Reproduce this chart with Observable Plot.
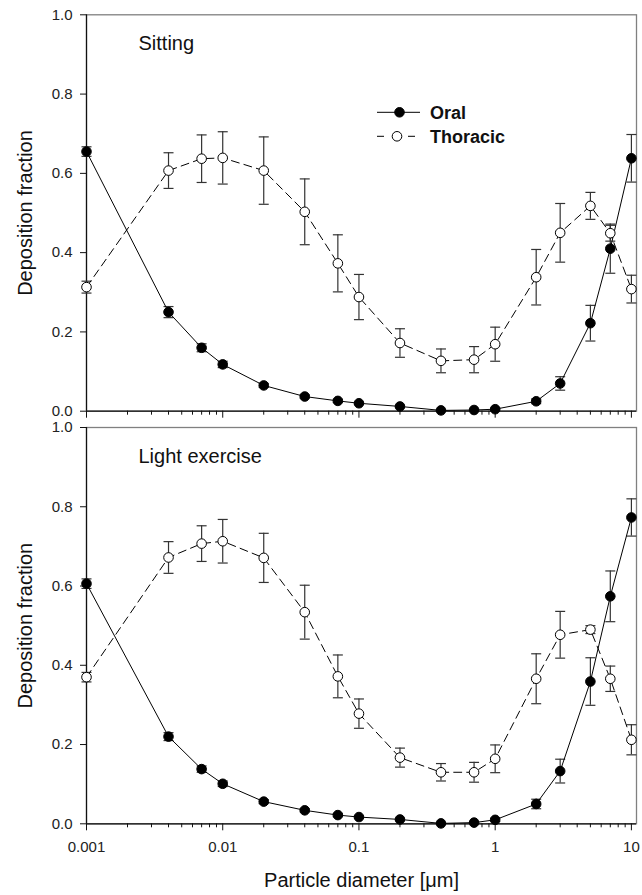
<!DOCTYPE html>
<html>
<head>
<meta charset="utf-8">
<script src="https://cdn.jsdelivr.net/npm/d3@7"></script>
<script src="https://cdn.jsdelivr.net/npm/@observablehq/plot@0.6"></script>
<style>
  html, body { margin: 0; padding: 0; background: white; }
  #chart svg { display: block; }
</style>
</head>
<body>
<div id="chart"></div>
<script>
// ---- Data ----
const diameters = [0.001, 0.004, 0.007, 0.01, 0.02, 0.04, 0.07, 0.1, 0.2, 0.4, 0.7, 1, 2, 3, 5, 7, 10];

const sittingOral       = [0.655, 0.250, 0.160, 0.118, 0.065, 0.037, 0.026, 0.020, 0.012, 0.002, 0.003, 0.005, 0.025, 0.070, 0.222, 0.410, 0.638];
const sittingOralErr    = [0.012, 0.014, 0.010, 0.008, 0.005, 0.004, 0.004, 0.003, 0.003, 0.002, 0.002, 0.003, 0.006, 0.017, 0.045, 0.062, 0.060];
const sittingThoracic    = [0.313, 0.607, 0.637, 0.639, 0.607, 0.503, 0.373, 0.288, 0.172, 0.127, 0.130, 0.169, 0.338, 0.450, 0.518, 0.449, 0.308];
const sittingThoracicErr = [0.015, 0.045, 0.060, 0.066, 0.085, 0.083, 0.072, 0.057, 0.036, 0.030, 0.033, 0.043, 0.070, 0.074, 0.034, 0.020, 0.035];

const exerciseOral       = [0.606, 0.220, 0.138, 0.101, 0.056, 0.034, 0.022, 0.017, 0.011, 0.001, 0.003, 0.010, 0.050, 0.133, 0.359, 0.574, 0.773];
const exerciseOralErr    = [0.012, 0.010, 0.008, 0.007, 0.005, 0.004, 0.004, 0.003, 0.003, 0.002, 0.002, 0.004, 0.012, 0.030, 0.060, 0.064, 0.047];
const exerciseThoracic    = [0.370, 0.672, 0.707, 0.713, 0.671, 0.534, 0.372, 0.278, 0.167, 0.130, 0.130, 0.164, 0.366, 0.477, 0.490, 0.366, 0.212];
const exerciseThoracicErr = [0.012, 0.040, 0.045, 0.055, 0.062, 0.068, 0.054, 0.037, 0.024, 0.022, 0.025, 0.035, 0.063, 0.059, 0.010, 0.032, 0.038];

const panelLabels = ["Sitting", "Light exercise"];
const seriesNames = ["Oral", "Thoracic"];
const xMajorTicks = [0.001, 0.01, 0.1, 1, 10];
const xMajorLabels = ["0.001", "0.01", "0.1", "1", "10"];
const xMinorTicks = [0.002, 0.003, 0.004, 0.005, 0.006, 0.007, 0.008, 0.009,
                     0.02, 0.03, 0.04, 0.05, 0.06, 0.07, 0.08, 0.09,
                     0.2, 0.3, 0.4, 0.5, 0.6, 0.7, 0.8, 0.9,
                     2, 3, 4, 5, 6, 7, 8, 9];
const yTicks = [0, 0.2, 0.4, 0.6, 0.8, 1.0];
const xTitle = "Particle diameter [μm]";
const yTitle = "Deposition fraction";

// ---- helpers ----
const rows = (vals, errs) => diameters.map((d, i) => ({d, v: vals[i], e: errs[i]}));
const capSymbol = {
  draw(context, size) {
    const r = Math.sqrt(size / Math.PI);
    context.moveTo(-r, 0);
    context.lineTo(r, 0);
  }
};
const FONT = "Arial, 'Liberation Sans', sans-serif";
const ERR = "#333";

function seriesMarks(data, dashed) {
  return [
    Plot.ruleX(data, {x: "d", y1: d => d.v - d.e, y2: d => d.v + d.e, stroke: ERR, strokeWidth: 1.2}),
    Plot.dot(data, {x: "d", y: d => d.v - d.e, symbol: capSymbol, r: 5, stroke: ERR, fill: "none", strokeWidth: 1.2}),
    Plot.dot(data, {x: "d", y: d => d.v + d.e, symbol: capSymbol, r: 5, stroke: ERR, fill: "none", strokeWidth: 1.2}),
    Plot.line(data, {x: "d", y: "v", stroke: "black", strokeWidth: 1, strokeDasharray: dashed ? "8,5" : null})
  ];
}
function dotMarks(data, filled) {
  return Plot.dot(data, {x: "d", y: "v", r: 4.8, fill: filled ? "black" : "white", stroke: "black", strokeWidth: 1});
}

function legendMark(index, scales, values, dim) {
  const g = d3.create("svg:g");
  const x0 = dim.marginLeft + 291;
  const y1 = dim.marginTop + 98;
  const y2 = dim.marginTop + 122;
  // Oral row
  g.append("line").attr("x1", x0).attr("x2", x0 + 43).attr("y1", y1).attr("y2", y1).attr("stroke", "black");
  g.append("circle").attr("cx", x0 + 22.5).attr("cy", y1).attr("r", 4.8).attr("fill", "black").attr("stroke", "black");
  // Thoracic row
  g.append("line").attr("x1", x0).attr("x2", x0 + 7).attr("y1", y2).attr("y2", y2).attr("stroke", "black");
  g.append("line").attr("x1", x0 + 31).attr("x2", x0 + 38).attr("y1", y2).attr("y2", y2).attr("stroke", "black");
  g.append("circle").attr("cx", x0 + 20).attr("cy", y2).attr("r", 4.8).attr("fill", "white").attr("stroke", "black");
  [[seriesNames[0], y1], [seriesNames[1], y2]].forEach(([t, y]) => {
    g.append("text").attr("x", x0 + 53).attr("y", y + 6.5).attr("text-anchor", "start")
      .attr("font-family", FONT).attr("font-weight", "bold").attr("font-size", 18).attr("fill", "#111").text(t);
  });
  return g.node();
}

function panel({label, oral, thoracic, height, marginTop, marginBottom, showXLabels, legend}) {
  return Plot.plot({
    width: 642,
    height,
    marginLeft: 86,
    marginRight: 6,
    marginTop,
    marginBottom,
    x: {type: "log", domain: [0.001, 10.9]},
    y: {domain: [0, 1]},
    style: {fontFamily: FONT, fontSize: "15px", color: "#222", background: "white", overflow: "visible"},
    marks: [
      Plot.frame({stroke: "#808080", strokeWidth: 1.3}),
      Plot.ruleX([0.001], {stroke: "#111", strokeWidth: 1.2}),
      Plot.ruleY([0], {stroke: "#111", strokeWidth: 1.2}),
      Plot.axisY({ticks: yTicks, tickFormat: d3.format(".1f"), tickSize: 6, tickPadding: 8, label: null, stroke: "#111", fontSize: 15, fill: "#222"}),
      Plot.axisX({ticks: xMajorTicks, tickSize: 7, tickPadding: 11, label: null, stroke: "#111", fontSize: 15, fill: "#222",
                  tickFormat: showXLabels ? (d => xMajorLabels[xMajorTicks.indexOf(d)]) : (() => "")}),
      Plot.axisX({ticks: xMinorTicks, tickSize: 4, label: null, stroke: "#111", tickFormat: () => ""}),
      Plot.text([yTitle], {frameAnchor: "left", rotate: -90, dx: -61, textAnchor: "middle", lineAnchor: "middle", fontSize: 20, fill: "#111"}),
      Plot.text([label], {frameAnchor: "top-left", dx: 52, dy: 29, textAnchor: "start", lineAnchor: "middle", fontSize: 20, fill: "#111"}),
      showXLabels ? Plot.text([xTitle], {frameAnchor: "bottom", dy: 57, textAnchor: "middle", lineAnchor: "middle", fontSize: 20, fill: "#111"}) : null,
      ...seriesMarks(thoracic, true),
      ...seriesMarks(oral, false),
      dotMarks(oral, true),
      dotMarks(thoracic, false),
      legend ? legendMark : null
    ]
  });
}

const chart = document.getElementById("chart");
chart.append(panel({
  label: panelLabels[0],
  oral: rows(sittingOral, sittingOralErr),
  thoracic: rows(sittingThoracic, sittingThoracicErr),
  height: 418, marginTop: 14.3, marginBottom: 7.3, showXLabels: false, legend: true
}));
chart.append(panel({
  label: panelLabels[1],
  oral: rows(exerciseOral, exerciseOralErr),
  thoracic: rows(exerciseThoracic, exerciseThoracicErr),
  height: 477, marginTop: 9, marginBottom: 71.7, showXLabels: true, legend: false
}));
</script>
</body>
</html>
